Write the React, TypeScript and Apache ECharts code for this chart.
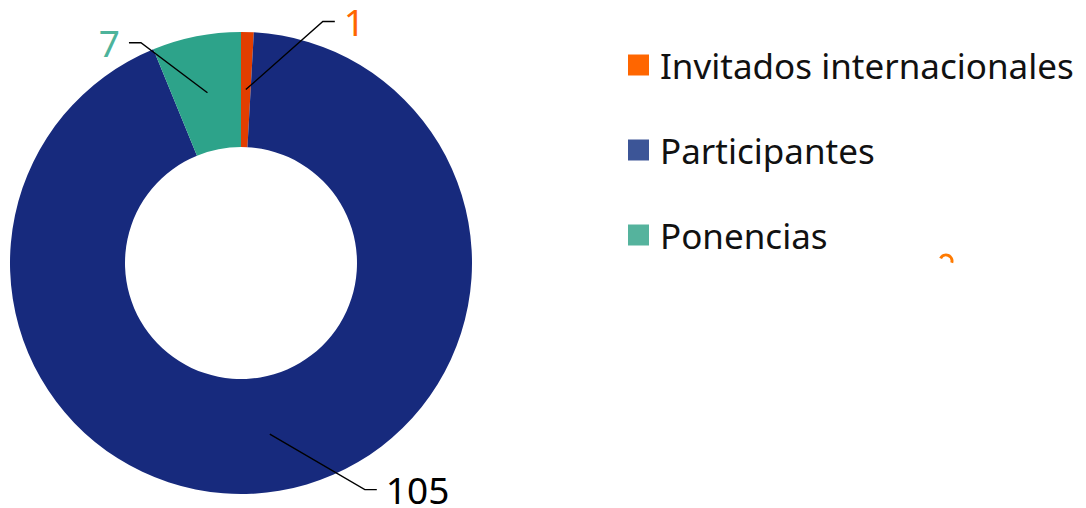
import React, { useEffect, useRef } from "react";
import * as echarts from "echarts";

const categories = ["Invitados internacionales", "Participantes", "Ponencias"];
const values = [1, 105, 7];

const sliceColors = ["#E23E00", "#172A7D", "#2DA38A"];
const legendColors = ["#FF6600", "#3C5597", "#55B39D"];
const labelColors = ["#FF6600", "#000000", "#4DB39B"];
// leader line: elbow offset from the start point, and tail direction
const leaderOffsets: number[][] = [
  [77, -68, 1],
  [95, 55.5, 1],
  [-66.5, -50, -1],
];

const CX = 241;
const CY = 263;
const R_OUT = 231;
const R_IN = 116;
const R_MID = (R_OUT + R_IN) / 2;
const FONT = "Noto Sans";
const TAIL = 12;
const LABEL_GAP = 9;

function leader(idx: number) {
  const total = values.reduce((a, b) => a + b, 0);
  let acc = 0;
  for (let i = 0; i < idx; i++) acc += values[i];
  const mid = acc + values[idx] / 2;
  const ang = ((90 - (mid / total) * 360) * Math.PI) / 180;
  const sx = CX + R_MID * Math.cos(ang);
  const sy = CY - R_MID * Math.sin(ang);
  const [dx, dy, dir] = leaderOffsets[idx];
  const ex = sx + dx;
  const ey = sy + dy;
  const tx = ex + dir * TAIL;
  return { sx, sy, ex, ey, tx, dir };
}

export default function App() {
  const ref = useRef<HTMLDivElement>(null);

  useEffect(() => {
    document.body.style.margin = "0";
    if (!ref.current) return;
    const chart = echarts.init(ref.current, undefined, { renderer: "svg" });

    const leaderLines = values.map((_, i) => {
      const l = leader(i);
      return {
        type: "polyline",
        silent: true,
        z: 100,
        shape: {
          points: [
            [l.sx, l.sy],
            [l.ex, l.ey],
            [l.tx, l.ey],
          ],
        },
        style: { stroke: "#000000", lineWidth: 1.4, fill: "none" },
      };
    });

    const option: any = {
      animation: false,
      backgroundColor: "#ffffff",
      legend: {
        orient: "vertical",
        left: 623,
        top: 42.5,
        itemWidth: 21,
        itemHeight: 21,
        itemGap: 50,
        icon: "rect",
        selectedMode: false,
        textStyle: {
          fontFamily: FONT,
          fontSize: 35,
          lineHeight: 35,
          color: "#111111",
          padding: [0, 0, 0, 6],
        },
        data: categories.map((name, i) => ({
          name,
          itemStyle: { color: legendColors[i] },
        })),
      },
      graphic: [
        ...leaderLines,
        {
          type: "arc",
          shape: { cx: 946, cy: 261, r: 6, startAngle: -2.7, endAngle: 0.3 },
          style: { stroke: "#FF7A00", lineWidth: 3, fill: "none" },
          silent: true,
        },
      ],
      series: [
        {
          type: "pie",
          center: [CX, CY],
          radius: [R_IN, R_OUT],
          startAngle: 90,
          clockwise: true,
          avoidLabelOverlap: false,
          emphasis: { disabled: true },
          itemStyle: { borderWidth: 0 },
          label: {
            show: true,
            position: "outside",
            formatter: "{c}",
            fontFamily: FONT,
            fontSize: 37,
            lineHeight: 28,
          },
          labelLine: { show: false },
          labelLayout: (params: any) => {
            const l = leader(params.dataIndex);
            return {
              x: l.tx + l.dir * LABEL_GAP,
              y: l.ey,
              align: l.dir > 0 ? "left" : "right",
              verticalAlign: "middle",
            };
          },
          data: categories.map((name, i) => ({
            name,
            value: values[i],
            itemStyle: { color: sliceColors[i] },
            label: { color: labelColors[i] },
          })),
        },
      ],
    };
    chart.setOption(option);
    return () => chart.dispose();
  }, []);

  return <div ref={ref} style={{ width: 1086, height: 508 }} />;
}
